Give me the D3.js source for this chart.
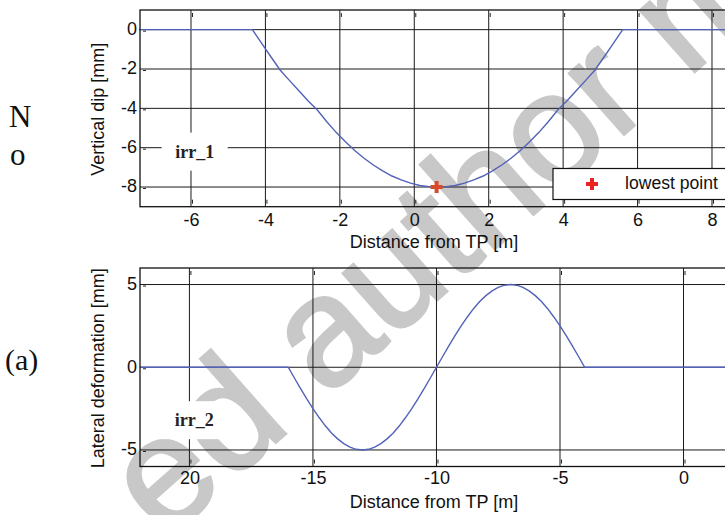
<!DOCTYPE html>
<html>
<head>
<meta charset="utf-8">
<script src="https://cdn.jsdelivr.net/npm/d3@7"></script>
<style>
  html, body { margin: 0; padding: 0; background: #fff; }
  svg { display: block; }
  .tick text { font-family: "Liberation Sans", Arial, sans-serif; font-size: 18px; fill: #111; }
</style>
</head>
<body>
<svg id="fig" width="725" height="515"></svg>
<script>
// Vertical irregularity irr_1: distance from TP [m] and vertical dip [mm]
const dipX = [-7.4, -4.35, -4.1, -3.85, -3.6, -3.35, -3.1, -2.85, -2.6, -2.35, -2.1, -1.85, -1.6, -1.35, -1.1, -0.85, -0.6, -0.35, -0.1, 0.15, 0.4,
              0.625, 0.85, 1.1, 1.35, 1.6, 1.85, 2.1, 2.35, 2.6, 2.85, 3.1, 3.35, 3.6, 3.85, 4.1, 4.35, 4.6, 4.85, 5.1, 5.35, 5.6, 8.4];
const dipY = [0, 0, -0.70, -1.39, -2.06, -2.59, -3.11, -3.63, -4.10, -4.68, -5.22, -5.70, -6.14, -6.54, -6.88, -7.18, -7.44, -7.64, -7.80, -7.92, -7.98,
              -8.0, -7.98, -7.92, -7.80, -7.64, -7.44, -7.18, -6.88, -6.54, -6.14, -5.70, -5.22, -4.68, -4.10, -3.63, -3.11, -2.59, -2.06, -1.39, -0.70, 0, 0];
const lowestPoint = [0.6, -8.0];
const dipXTicks = [-6, -4, -2, 0, 2, 4, 6, 8];
const dipYTicks = [0, -2, -4, -6, -8];

// Lateral irregularity irr_2: distance from TP [m] and lateral deformation [mm]
const latX = [-22, -16, -15.75, -15.5, -15.25, -15, -14.75, -14.5, -14.25, -14, -13.75, -13.5, -13.25, -13,
              -12.75, -12.5, -12.25, -12, -11.75, -11.5, -11.25, -11, -10.75, -10.5, -10.25, -10,
              -9.75, -9.5, -9.25, -9, -8.75, -8.5, -8.25, -8, -7.75, -7.5, -7.25, -7,
              -6.75, -6.5, -6.25, -6, -5.75, -5.5, -5.25, -5, -4.75, -4.5, -4.25, -4, 1.8];
const latY = [0, 0, -0.65, -1.29, -1.91, -2.5, -3.04, -3.54, -3.97, -4.33, -4.62, -4.83, -4.96, -5.0,
              -4.96, -4.83, -4.62, -4.33, -3.97, -3.54, -3.04, -2.5, -1.91, -1.29, -0.65, 0,
              0.65, 1.29, 1.91, 2.5, 3.04, 3.54, 3.97, 4.33, 4.62, 4.83, 4.96, 5.0,
              4.96, 4.83, 4.62, 4.33, 3.97, 3.54, 3.04, 2.5, 1.91, 1.29, 0.65, 0, 0];
const latXTicks = [-20, -15, -10, -5, 0];
const latXTickLabels = ["20", "-15", "-10", "-5", "0"];
const latYTicks = [5, 0, -5];

const svg = d3.select("#fig");
svg.append("rect").attr("width", 725).attr("height", 515).attr("fill", "#fff");

const sans = "'Liberation Sans', Arial, Helvetica, sans-serif";
const serif = "'Liberation Serif', 'Times New Roman', serif";
const lineBlue = "#5262b8";
const plain = d => String(d);   // hyphen-minus, as printed

// page watermark, lying under the figure
svg.append("text")
  .attr("transform", "translate(164,541.4) rotate(-41.5)")
  .attr("font-family", sans).attr("font-size", 155)
  .attr("fill", "#c8c8c8").attr("stroke", "#c8c8c8").attr("stroke-width", 3)
  .text("ed author manuscript");

function panel(opt) {
  const { left, right, top, bottom } = opt.box;
  const x = d3.scaleLinear().domain(opt.xDomain).range([left, right]);
  const y = d3.scaleLinear().domain(opt.yDomain).range([bottom, top]);
  const g = svg.append("g");

  // grid
  g.append("g").selectAll("line").data(opt.xTicks).join("line")
    .attr("x1", d => x(d)).attr("x2", d => x(d))
    .attr("y1", top).attr("y2", bottom)
    .attr("stroke", "#1a1a1a").attr("stroke-width", 1);
  g.append("g").selectAll("line").data(opt.yTicks).join("line")
    .attr("x1", left).attr("x2", right)
    .attr("y1", d => y(d)).attr("y2", d => y(d))
    .attr("stroke", "#1a1a1a").attr("stroke-width", 1);

  // small inward tick marks
  const tk = g.append("g").attr("stroke", "#222").attr("stroke-width", 1);
  opt.xTicks.forEach(d => {
    tk.append("line").attr("x1", x(d) + 1.5).attr("x2", x(d) + 1.5).attr("y1", top + 3).attr("y2", top + 7);
    tk.append("line").attr("x1", x(d) + 1.5).attr("x2", x(d) + 1.5).attr("y1", bottom - 7).attr("y2", bottom - 3);
  });
  opt.yTicks.forEach(d => {
    tk.append("line").attr("x1", left + 3).attr("x2", left + 6).attr("y1", y(d) + 1.5).attr("y2", y(d) + 1.5);
  });

  // data line
  const pts = opt.xs.map((v, i) => [v, opt.ys[i]]);
  g.append("path").datum(pts)
    .attr("d", d3.line().x(d => x(d[0])).y(d => y(d[1])))
    .attr("fill", "none").attr("stroke", lineBlue).attr("stroke-width", 1.4);

  // label box (irr_n)
  const lx = x(opt.label.at[0]), ly = y(opt.label.at[1]);
  g.append("rect").attr("x", lx - 33).attr("y", ly - 19).attr("width", 66).attr("height", 38).attr("fill", "#fff");
  g.append("text").attr("x", lx).attr("y", ly).attr("dy", "0.35em")
    .attr("text-anchor", "middle").attr("font-family", serif).attr("font-weight", "bold")
    .attr("font-size", 18).attr("fill", "#222").text(opt.label.text);

  // frame
  g.append("rect").attr("x", left).attr("y", top).attr("width", right - left).attr("height", bottom - top)
    .attr("fill", "none").attr("stroke", "#111").attr("stroke-width", 1.3);

  // axes (labels only)
  const ax = g.append("g").attr("transform", `translate(0,${bottom})`)
    .call(d3.axisBottom(x).tickValues(opt.xTicks).tickSize(0).tickPadding(opt.xPad)
      .tickFormat((d, i) => opt.xLabels ? opt.xLabels[i] : plain(d)));
  ax.select(".domain").remove();
  const ay = g.append("g").attr("transform", `translate(${left},0)`)
    .call(d3.axisLeft(y).tickValues(opt.yTicks).tickSize(0).tickPadding(3).tickFormat(plain));
  ay.select(".domain").remove();
  ay.selectAll("text").attr("dy", "0.27em");

  // axis titles
  g.append("text").attr("x", (left + right) / 2).attr("y", opt.xTitleY)
    .attr("text-anchor", "middle").attr("font-family", sans).attr("font-size", 18).attr("fill", "#111")
    .text("Distance from TP [m]");
  g.append("text").attr("transform", `translate(104,${(top + bottom) / 2 + 1}) rotate(-90)`)
    .attr("text-anchor", "middle").attr("font-family", sans).attr("font-size", 18).attr("fill", "#111")
    .text(opt.yTitle);

  return { x, y, g };
}

const topP = panel({
  box: { left: 140, right: 728, top: 10, bottom: 206.7 },
  xDomain: [-7.37, 8.43], yDomain: [-9, 1],
  xTicks: dipXTicks, yTicks: dipYTicks, xPad: 7,
  xs: dipX, ys: dipY,
  label: { text: "irr_1", at: [-5.9, -6.2] },
  xTitleY: 248, yTitle: "Vertical dip [mm]"
});

// lowest point marker
const cross = d3.symbol().type(d3.symbolCross).size(80);
topP.g.append("path").attr("d", cross)
  .attr("transform", `translate(${topP.x(lowestPoint[0])},${topP.y(lowestPoint[1])})`)
  .attr("fill", "#d84a2c");

// legend
const lg = svg.append("g");
lg.append("rect").attr("x", 553).attr("y", 168.5).attr("width", 200).attr("height", 31)
  .attr("fill", "#fff").attr("stroke", "#111").attr("stroke-width", 1.2);
lg.append("path").attr("d", cross).attr("transform", "translate(592,184)").attr("fill", "#ee2222");
lg.append("text").attr("x", 625).attr("y", 188.5).attr("font-family", sans).attr("font-size", 17.6)
  .attr("fill", "#111").text("lowest point");

panel({
  box: { left: 140, right: 728, top: 268, bottom: 466.5 },
  xDomain: [-22, 1.8], yDomain: [-6, 6],
  xTicks: latXTicks, yTicks: latYTicks, xLabels: latXTickLabels, xPad: 5,
  xs: latX, ys: latY,
  label: { text: "irr_2", at: [-19.8, -3.2] },
  xTitleY: 508, yTitle: "Lateral deformation [mm]"
});

// page text in the left margin
svg.append("text").attr("x", 9).attr("y", 127).attr("font-family", serif).attr("font-size", 31).attr("fill", "#111").text("N");
svg.append("text").attr("x", 10).attr("y", 165).attr("font-family", serif).attr("font-size", 31).attr("fill", "#111").text("o");
svg.append("text").attr("x", 5).attr("y", 370).attr("font-family", serif).attr("font-size", 30).attr("fill", "#111").text("(a)");
</script>
</body>
</html>
